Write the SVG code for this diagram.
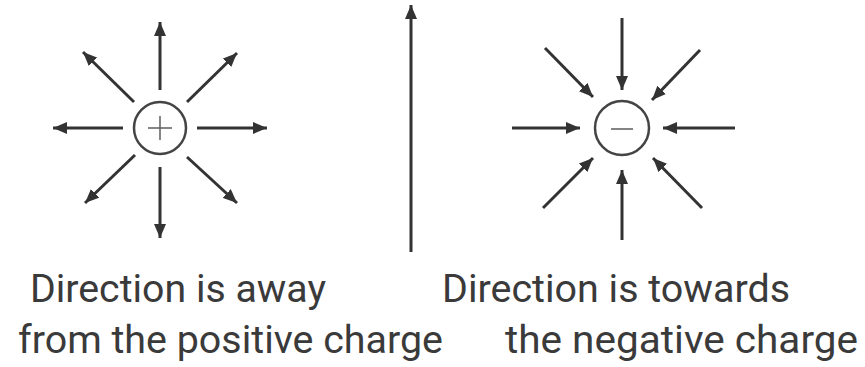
<svg xmlns="http://www.w3.org/2000/svg" width="865" height="367" viewBox="0 0 865 367">
<style>
.ar{stroke:#333;stroke-width:3;fill:none;marker-end:url(#ah)}
.ring{stroke:#444;stroke-width:2.5;fill:#fff}
.sign{stroke:#666;stroke-width:1.6}
.lbl{font-family:Roboto,"Liberation Sans",sans-serif;font-size:38px;fill:#3a3a3a}
</style>
<defs>
<marker id="ah" markerUnits="userSpaceOnUse" markerWidth="14" markerHeight="12" refX="14" refY="6" orient="auto">
<path d="M0,0 L14,6 L0,12 z" fill="#333"/>
</marker>
</defs>
<rect width="865" height="367" fill="#fff"/>
<g id="connectors">
<line class="ar" x1="160" y1="90" x2="160" y2="22"/>
<line class="ar" x1="160" y1="167" x2="160" y2="238"/>
<line class="ar" x1="123" y1="128" x2="53" y2="128"/>
<line class="ar" x1="197" y1="128" x2="267" y2="128"/>
<line class="ar" x1="134" y1="102" x2="83" y2="52"/>
<line class="ar" x1="187" y1="102" x2="237" y2="53"/>
<line class="ar" x1="135" y1="155" x2="85" y2="203"/>
<line class="ar" x1="187" y1="157" x2="237" y2="203"/>
<line class="ar" x1="411" y1="252" x2="411" y2="5"/>
<line class="ar" x1="622" y1="18" x2="622" y2="90"/>
<line class="ar" x1="622" y1="240" x2="622" y2="170"/>
<line class="ar" x1="512" y1="128" x2="580" y2="128"/>
<line class="ar" x1="735" y1="128" x2="663" y2="128"/>
<line class="ar" x1="545" y1="48" x2="593" y2="97"/>
<line class="ar" x1="700" y1="50" x2="652" y2="100"/>
<line class="ar" x1="543" y1="208" x2="593" y2="158"/>
<line class="ar" x1="702" y1="208" x2="653" y2="158"/>
</g>
<g id="positive">
<circle class="ring" cx="160" cy="128" r="26"/>
<line class="sign" x1="148" y1="128" x2="172" y2="128"/>
<line class="sign" x1="160" y1="116" x2="160" y2="140"/>
</g>
<g id="negative">
<circle class="ring" cx="622" cy="128" r="27"/>
<line class="sign" x1="611" y1="129" x2="633" y2="129"/>
</g>
<g id="labels">
<text class="lbl" x="30" y="302" textLength="296" lengthAdjust="spacingAndGlyphs">Direction is away</text>
<text class="lbl" x="18" y="353" textLength="425" lengthAdjust="spacingAndGlyphs">from the positive charge</text>
<text class="lbl" x="442" y="302" textLength="348" lengthAdjust="spacingAndGlyphs">Direction is towards</text>
<text class="lbl" x="505" y="353" textLength="353" lengthAdjust="spacingAndGlyphs">the negative charge</text>
</g>
</svg>
